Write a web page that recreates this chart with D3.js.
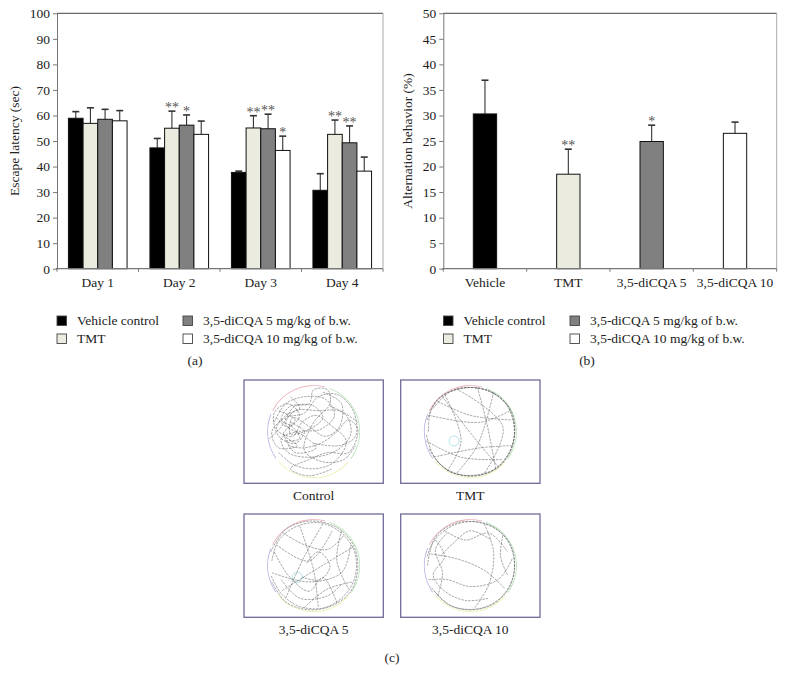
<!DOCTYPE html>
<html>
<head>
<meta charset="utf-8">
<script src="https://cdn.jsdelivr.net/npm/d3@7/dist/d3.min.js"></script>
<style>
  html, body { margin: 0; padding: 0; background: #fff; }
  svg { display: block; }
  text { font-family: "Liberation Serif", "DejaVu Serif", serif; fill: #222; }
</style>
</head>
<body>
<svg id="chart" width="785" height="679"></svg>
<script>
// ---------- DATA ----------
const days = ["Day 1", "Day 2", "Day 3", "Day 4"];
const groups = ["Vehicle control", "TMT", "3,5-diCQA 5 mg/kg of b.w.", "3,5-diCQA 10 mg/kg of b.w."];
const latencyVehicle = [58.9, 47.3, 37.7, 30.7];
const latencyTMT     = [56.9, 55.0, 55.1, 52.6];
const latency5       = [58.5, 56.2, 54.8, 49.3];
const latency10      = [57.9, 52.6, 46.3, 38.2];
const latencyErrVehicle = [2.6, 3.7, 0.5, 6.5];
const latencyErrTMT     = [6.1, 6.7, 4.8, 5.6];
const latencyErr5       = [3.9, 4.0, 5.7, 6.6];
const latencyErr10      = [4.0, 5.2, 5.6, 5.5];
const latencySig = [["", "", "", ""], ["", "**", "*", ""], ["", "**", "**", "*"], ["", "**", "**", ""]];
const latencyTicks = [0, 10, 20, 30, 40, 50, 60, 70, 80, 90, 100];

const altCategories = ["Vehicle", "TMT", "3,5-diCQA 5", "3,5-diCQA 10"];
const altValues = [30.3, 18.5, 24.9, 26.5];
const altErrors = [6.6, 4.9, 3.2, 2.2];
const altSig = ["", "**", "*", ""];
const altTicks = [0, 5, 10, 15, 20, 25, 30, 35, 40, 45, 50];

const mazeLabels = ["Control", "TMT", "3,5-diCQA 5", "3,5-diCQA 10"];
// swim trajectories (normalised to the pool radius, y downward)
const trackControl = [
  [[-0.85,-0.2],[-0.6,-0.6],[-0.2,-0.75],[0.25,-0.7],[0.45,-0.35],[0.15,-0.05],[-0.35,0.0],[-0.7,0.15],[-0.55,0.45],[-0.05,0.55],[0.5,0.4],[0.8,0.05],[0.7,-0.35],[0.35,-0.55]],
  [[-0.75,-0.45],[-0.4,-0.25],[-0.65,0.05],[-0.35,0.3],[-0.75,0.35],[-0.9,0.0],[-0.6,-0.3],[-0.2,-0.4],[0.1,-0.75],[0.5,-0.8],[0.85,-0.45],[0.9,0.1],[0.55,0.3],[0.0,0.25]],
  [[-0.5,-0.75],[-0.3,-0.5],[-0.6,-0.35],[-0.8,-0.05],[-0.45,0.1],[-0.25,-0.2],[0.05,-0.35],[0.35,-0.15],[0.7,0.2],[0.45,0.65],[0.0,0.8],[-0.45,0.7],[-0.75,0.45]],
  [[-0.6,0.2],[-0.3,0.15],[-0.45,-0.1],[-0.7,-0.25],[-0.5,-0.55],[-0.1,-0.6],[0.0,-0.9],[0.3,-0.9],[0.35,-0.6],[0.0,-0.2],[-0.2,0.4],[0.2,0.65],[0.65,0.6],[0.9,0.3]],
  [[-0.95,0.15],[-0.7,-0.1],[-0.4,-0.55],[0.0,-0.55],[0.2,-0.3],[-0.1,-0.05],[-0.5,0.05],[-0.45,-0.3],[-0.15,-0.15],[0.25,0.1],[0.55,-0.1],[0.6,-0.6],[0.2,-0.85]],
  [[-0.55,0.3],[-0.25,0.35],[0.15,0.25],[0.5,0.0],[0.75,-0.25],[0.95,-0.05],[0.75,0.45],[0.3,0.45],[-0.1,0.6],[-0.5,0.8],[-0.1,0.95],[0.4,0.8]],
  [[-0.8,-0.3],[-0.55,-0.1],[-0.3,-0.35],[-0.55,-0.6],[-0.85,-0.4],[-0.75,0.1],[-0.4,0.25],[-0.2,0.0],[-0.5,-0.2]],
  [[-0.65,0.05],[-0.4,0.45],[0.05,0.35],[-0.2,0.1],[-0.6,-0.15],[-0.4,-0.45],[0.1,-0.45],[0.55,-0.45],[0.95,-0.2]]
];
const trackTMT = [
  [[-0.9,0.0],[-0.85,-0.45],[-0.55,-0.8],[-0.05,-0.95],[0.45,-0.85],[0.8,-0.55],[0.95,-0.05],[0.85,0.45],[0.55,0.8],[0.05,0.95],[-0.45,0.85],[-0.8,0.5],[-0.95,0.05]],
  [[-0.8,-0.5],[-0.45,-0.85],[0.0,-0.95],[0.5,-0.82],[0.88,-0.45],[0.95,0.1],[0.78,0.55],[0.4,0.88],[-0.1,0.95],[-0.6,0.75],[-0.9,0.35]],
  [[-0.88,-0.35],[0.2,-0.2],[0.85,-0.45]],
  [[-0.6,-0.75],[0.1,0.15],[0.6,0.75]],
  [[0.5,-0.85],[0.15,0.3],[-0.3,0.9]],
  [[-0.95,0.2],[-0.2,0.55],[0.7,0.6]],
  [[-0.7,-0.65],[0.0,-0.35],[0.9,-0.25]],
  [[0.15,-0.95],[0.35,-0.2],[0.55,0.82]],
  [[-0.5,0.85],[-0.2,0.2],[-0.55,-0.8]],
  [[0.9,0.3],[0.2,0.35],[-0.8,0.55]],
  [[-0.93,-0.25],[-0.7,-0.7],[-0.2,-0.93],[0.35,-0.9],[0.75,-0.62],[0.93,-0.2],[0.9,0.3],[0.6,0.75],[0.15,0.93],[-0.4,0.88],[-0.75,0.6]],
  [[-0.3,-0.92],[0.7,-0.1],[0.3,0.9]]
];
const track5 = [
  [[-0.9,-0.1],[-0.75,-0.55],[-0.35,-0.85],[0.15,-0.92],[0.6,-0.7],[0.88,-0.3],[0.9,0.2],[0.7,0.6],[0.25,0.9],[-0.3,0.88],[-0.7,0.6],[-0.92,0.2]],
  [[-0.8,-0.45],[-0.1,-0.1],[0.4,-0.75]],
  [[-0.6,0.7],[-0.2,-0.2],[0.2,-0.9]],
  [[0.85,-0.4],[0.1,0.05],[-0.7,0.55]],
  [[-0.9,0.15],[-0.1,0.35],[0.6,0.15],[0.8,-0.45]],
  [[-0.3,-0.85],[0.0,0.1],[0.1,0.9]],
  [[0.5,0.8],[0.2,0.25],[-0.1,0.55],[-0.55,0.2],[-0.85,-0.3]],
  [[-0.2,0.9],[0.3,0.5],[0.85,0.35]],
  [[-0.65,-0.7],[-0.2,-0.45],[0.3,-0.35],[0.65,-0.65]],
  [[-0.15,-0.05],[0.1,-0.3],[0.35,0.0],[0.15,0.3],[-0.25,0.25]],
  [[-0.92,-0.3],[-0.6,-0.78],[-0.05,-0.96],[0.5,-0.82],[0.85,-0.45],[0.95,0.05],[0.8,0.55],[0.4,0.86],[-0.1,0.95],[-0.6,0.78],[-0.9,0.35]],
  [[-0.7,0.3],[-0.3,0.7],[0.3,0.65],[0.6,0.4]],
  [[0.6,-0.75],[0.5,-0.1],[0.75,0.5]]
];
const track10 = [
  [[-0.92,0.0],[-0.8,-0.5],[-0.4,-0.85],[0.1,-0.95],[0.55,-0.8],[0.85,-0.45],[0.95,0.05],[0.82,0.5],[0.45,0.85],[-0.05,0.95],[-0.5,0.82],[-0.85,0.45]],
  [[-0.75,-0.55],[-0.55,-0.2],[-0.8,0.2],[-0.55,0.55],[-0.1,0.75],[0.4,0.7]],
  [[-0.55,-0.75],[-0.1,-0.55],[0.4,-0.7],[0.8,-0.3]],
  [[-0.85,-0.25],[-0.3,-0.15],[0.3,0.1],[0.75,0.5]],
  [[0.3,-0.9],[0.5,-0.3],[0.4,0.4],[0.1,0.9]],
  [[-0.9,0.3],[-0.5,0.3],[0.0,0.45],[0.6,0.3],[0.9,-0.15]],
  [[-0.7,0.65],[-0.6,0.15],[-0.75,-0.35],[-0.5,-0.7]],
  [[0.7,-0.65],[0.65,-0.2],[0.8,0.2]],
  [[-0.93,-0.2],[-0.7,-0.68],[-0.25,-0.93],[0.3,-0.9],[0.72,-0.65],[0.93,-0.25],[0.9,0.3],[0.62,0.72],[0.15,0.93],[-0.4,0.87],[-0.78,0.55]],
  [[-0.65,-0.2],[-0.35,-0.5],[0.0,-0.75],[0.45,-0.55]]
];
const mazeTracks = [trackControl, trackTMT, track5, track10];
const mazePlatforms = [null, [-0.35, 0.2], [-0.35, 0.25], null];

// ---------- STYLE ----------
const fills = ["#000000", "#ecebe0", "#808080", "#ffffff"];
const svg = d3.select("#chart");
const FONT = 13.5;
const SERIF = "Liberation Serif, DejaVu Serif, serif";

function sigText(sel, xf, yf) {
  sel.attr("transform", p => `translate(${xf(p)},${yf(p)}) scale(0.5)`)
    .attr("x", 0).attr("y", 0)
    .attr("text-anchor", "middle").attr("font-size", 28)
    .attr("font-family", SERIF).style("fill", "#555")
    .text(p => p.sig);
}

// ---------- PANEL (a) ----------
(function () {
  const L = 57, R = 383, T = 13.3, B = 268.7;
  const g = svg.append("g");
  const y = d3.scaleLinear().domain([0, 100]).range([B, T]);
  const x0 = d3.scaleBand().domain(days).range([L, R]).paddingInner(0).paddingOuter(0);
  const x1 = d3.scaleBand().domain(groups).range([0, x0.bandwidth()]).paddingInner(0).paddingOuter(0.78);
  const vals = [latencyVehicle, latencyTMT, latency5, latency10];
  const errs = [latencyErrVehicle, latencyErrTMT, latencyErr5, latencyErr10];

  g.append("line").attr("x1", L).attr("x2", R).attr("y1", y(100)).attr("y2", y(100)).attr("stroke", "#444").attr("stroke-width", 1);
  g.append("line").attr("x1", R).attr("x2", R).attr("y1", y(100)).attr("y2", B).attr("stroke", "#aaa").attr("stroke-width", 1);

  const data = [];
  days.forEach((d, i) => groups.forEach((s, j) => data.push({ d, s, i, j, v: vals[j][i], e: errs[j][i], sig: latencySig[i][j] })));

  const eg = g.append("g").attr("stroke", "#333").attr("stroke-width", 1.1);
  data.forEach(p => {
    const cx = x0(p.d) + x1(p.s) + x1.bandwidth() / 2;
    eg.append("line").attr("x1", cx).attr("x2", cx).attr("y1", y(p.v)).attr("y2", y(p.v + p.e));
    eg.append("line").attr("x1", cx - 3.5).attr("x2", cx + 3.5).attr("y1", y(p.v + p.e)).attr("y2", y(p.v + p.e)).attr("stroke-width", 1.6);
  });
  g.selectAll("rect.bar").data(data).join("rect")
    .attr("x", p => x0(p.d) + x1(p.s))
    .attr("y", p => y(p.v))
    .attr("width", x1.bandwidth())
    .attr("height", p => B - y(p.v))
    .attr("fill", p => fills[p.j])
    .attr("stroke", "#111").attr("stroke-width", 1);
  g.append("g").selectAll("text").data(data.filter(p => p.sig)).join("text")
    .call(sigText, p => x0(p.d) + x1(p.s) + x1.bandwidth() / 2, p => y(p.v + p.e) + 1);

  const ya = g.append("g").attr("transform", `translate(${L},0)`)
    .call(d3.axisLeft(y).tickValues(latencyTicks).tickSize(4).tickSizeOuter(0).tickPadding(3));
  ya.attr("font-family", SERIF);
  ya.select(".domain").attr("stroke", "#777");
  ya.selectAll(".tick line").attr("stroke", "#777");
  ya.selectAll(".tick text").attr("font-size", FONT).style("fill", "#222");
  g.append("line").attr("x1", L - 1).attr("x2", R).attr("y1", B).attr("y2", B).attr("stroke", "#777").attr("stroke-width", 1.2);
  const bounds = days.map(d => x0(d)).concat([R]);
  g.selectAll("line.xt").data(bounds).join("line")
    .attr("x1", d => d).attr("x2", d => d).attr("y1", B).attr("y2", B + 3).attr("stroke", "#777");
  g.selectAll("text.xl").data(days).join("text")
    .attr("x", d => x0(d) + x0.bandwidth() / 2).attr("y", B + 18)
    .attr("text-anchor", "middle").attr("font-size", FONT).text(d => d);
  g.append("text").attr("transform", `translate(19,${(T + B) / 2}) rotate(-90)`)
    .attr("text-anchor", "middle").attr("font-size", FONT).text("Escape latency (sec)");
})();

// ---------- PANEL (b) ----------
(function () {
  const L = 443.3, R = 776.7, T = 13.3, B = 268.7;
  const g = svg.append("g");
  const y = d3.scaleLinear().domain([0, 50]).range([B, T]);
  const x = d3.scaleBand().domain(altCategories).range([L, R]).padding(0);
  const bw = x.bandwidth() * 0.28;

  g.append("line").attr("x1", L).attr("x2", R).attr("y1", y(50)).attr("y2", y(50)).attr("stroke", "#444");
  g.append("line").attr("x1", R).attr("x2", R).attr("y1", y(50)).attr("y2", B).attr("stroke", "#aaa");

  const data = altCategories.map((c, i) => ({ c, i, v: altValues[i], e: altErrors[i], sig: altSig[i] }));
  const eg = g.append("g").attr("stroke", "#333").attr("stroke-width", 1.1);
  data.forEach(p => {
    const cx = x(p.c) + x.bandwidth() / 2;
    eg.append("line").attr("x1", cx).attr("x2", cx).attr("y1", y(p.v)).attr("y2", y(p.v + p.e));
    eg.append("line").attr("x1", cx - 3.5).attr("x2", cx + 3.5).attr("y1", y(p.v + p.e)).attr("y2", y(p.v + p.e)).attr("stroke-width", 1.6);
  });
  g.selectAll("rect.bar").data(data).join("rect")
    .attr("x", p => x(p.c) + (x.bandwidth() - bw) / 2)
    .attr("y", p => y(p.v))
    .attr("width", bw)
    .attr("height", p => B - y(p.v))
    .attr("fill", p => fills[p.i])
    .attr("stroke", "#111").attr("stroke-width", 1);
  g.append("g").selectAll("text").data(data.filter(p => p.sig)).join("text")
    .call(sigText, p => x(p.c) + x.bandwidth() / 2, p => y(p.v + p.e) + 1);

  const ya = g.append("g").attr("transform", `translate(${L},0)`)
    .call(d3.axisLeft(y).tickValues(altTicks).tickSize(4).tickSizeOuter(0).tickPadding(3));
  ya.attr("font-family", SERIF);
  ya.select(".domain").attr("stroke", "#777");
  ya.selectAll(".tick line").attr("stroke", "#777");
  ya.selectAll(".tick text").attr("font-size", FONT).style("fill", "#222");
  g.append("line").attr("x1", L - 1).attr("x2", R).attr("y1", B).attr("y2", B).attr("stroke", "#777").attr("stroke-width", 1.2);
  const bounds = altCategories.map(d => x(d)).concat([R]);
  g.selectAll("line.xt").data(bounds).join("line")
    .attr("x1", d => d).attr("x2", d => d).attr("y1", B).attr("y2", B + 3).attr("stroke", "#777");
  g.selectAll("text.xl").data(altCategories).join("text")
    .attr("x", d => x(d) + x.bandwidth() / 2).attr("y", B + 18)
    .attr("text-anchor", "middle").attr("font-size", FONT).text(d => d);
  g.append("text").attr("transform", `translate(412,${(T + B) / 2}) rotate(-90)`)
    .attr("text-anchor", "middle").attr("font-size", FONT).text("Alternation behavior (%)");
})();

// ---------- LEGENDS ----------
function legend(x0, xCol2, cap, capX) {
  const g = svg.append("g");
  const pos = [[x0, 316], [x0, 334], [xCol2, 316], [xCol2, 334]];
  [0, 1, 2, 3].forEach(j => {
    const [px, py] = pos[j];
    g.append("rect").attr("x", px).attr("y", py).attr("width", 9.5).attr("height", 9.5)
      .attr("fill", fills[j]).attr("stroke", "#444").attr("stroke-width", 0.9);
    g.append("text").attr("x", px + 20).attr("y", py + 9).attr("font-size", FONT).text(groups[j]);
  });
  g.append("text").attr("x", capX).attr("y", 365).attr("text-anchor", "middle").attr("font-size", FONT).text(cap);
}
legend(57, 183, "(a)", 195);
legend(443.5, 570, "(b)", 587);

// ---------- PANEL (c) ----------
(function () {
  const frames = [[244, 380], [400.7, 380], [244, 514], [400.7, 514]];
  const FW = 139.3, FH = 103.3, R = 46.5;
  const line = d3.line().curve(d3.curveCatmullRom.alpha(0.5));
  const arc = d3.arc().innerRadius(R - 0.8).outerRadius(R);
  const wall = [
    { a0: -1.1, a1: 0.25, c: "#eab0b8" },
    { a0: 0.35, a1: 2.2, c: "#b8e4b8" },
    { a0: 2.3, a1: 4.0, c: "#efefb0" },
    { a0: 4.1, a1: 5.1, c: "#b4b4e4" }
  ];
  frames.forEach(([fx, fy], k) => {
    const g = svg.append("g");
    g.append("rect").attr("x", fx).attr("y", fy).attr("width", FW).attr("height", FH)
      .attr("fill", "#fff").attr("stroke", "#6e6c98").attr("stroke-width", 1.3);
    const cx = fx + FW / 2, cy = fy + FH / 2;
    const pg = g.append("g").attr("transform", `translate(${cx},${cy})`);
    pg.selectAll("path.wall").data(wall).join("path")
      .attr("d", w => arc({ startAngle: w.a0, endAngle: w.a1 })).attr("fill", w => w.c);
    if (mazePlatforms[k]) {
      pg.append("circle").attr("cx", mazePlatforms[k][0] * R).attr("cy", mazePlatforms[k][1] * R)
        .attr("r", 5).attr("fill", "none").attr("stroke", "#9fdce4").attr("stroke-width", 0.8);
    }
    pg.selectAll("path.track").data(mazeTracks[k]).join("path")
      .attr("d", t => line(t.map(p => [p[0] * R, p[1] * R])))
      .attr("fill", "none").attr("stroke", "#4a4a4a").attr("stroke-width", 0.6)
      .attr("stroke-dasharray", "2.5,1").attr("opacity", 0.8);
    g.append("text").attr("x", cx).attr("y", fy + FH + 17).attr("text-anchor", "middle")
      .attr("font-size", FONT).text(mazeLabels[k]);
  });
  svg.append("text").attr("x", 392).attr("y", 662).attr("text-anchor", "middle").attr("font-size", FONT).text("(c)");
})();
</script>
</body>
</html>
